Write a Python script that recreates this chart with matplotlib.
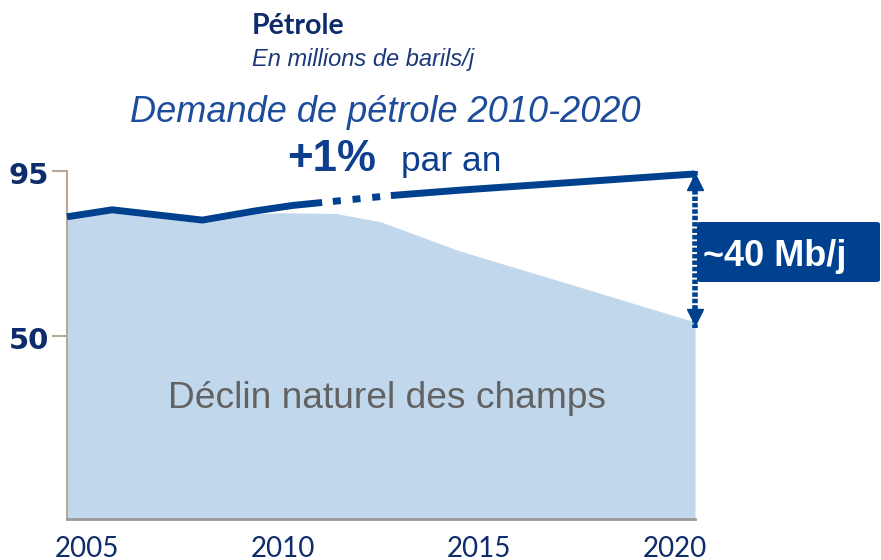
import numpy as np
import matplotlib.pyplot as plt
import matplotlib.transforms as mtransforms
from matplotlib.patches import FancyBboxPatch

# demand for oil (Mb/j)
demand_years = [2004.5, 2005.65, 2007.95, 2009.3, 2010.25, 2011.0, 2012.75, 2014.55, 2020.5]
demand_vals = [82.5, 84.4, 81.6, 84.1, 85.6, 86.4, 88.3, 89.8, 94.2]

# natural decline of existing fields
decline_years = [2004.5, 2005.65, 2007.95, 2009.3, 2009.95, 2011.35, 2012.5, 2014.5, 2020.5]
decline_vals = [82.0, 83.6, 80.8, 83.3, 83.6, 83.4, 81.1, 73.2, 53.8]

xticks = [2005, 2010, 2015, 2020]
yticks = [50, 95]

W, H = 881, 560
navy = '#0e2c6b'
blue = '#00418f'
fillc = '#c1d7ec'
tan = '#b8a898'


def px(x, y):
    return x / W, 1 - y / H


fig = plt.figure(figsize=(W / 100, H / 100), dpi=100)
ax = fig.add_axes([67 / W, 41 / H, 628 / W, 348 / H])

dy = np.array(demand_years)
dv = np.array(demand_vals)

ax.fill_between(decline_years, 0, decline_vals, color=fillc, lw=0, zorder=1)

# solid / dashed / solid demand line
m1 = dy <= 2011.0
m2 = (dy >= 2011.0) & (dy <= 2012.75)
m3 = dy >= 2012.75
ax.plot(dy[m1], dv[m1], color=blue, lw=5, solid_capstyle='butt', zorder=3, clip_on=False)
ax.plot(dy[m2], dv[m2], color=blue, lw=5, ls=(1.3, (1.15, 1.7)),
        dash_capstyle='butt', zorder=3, clip_on=False)
ax.plot(dy[m3], dv[m3], color=blue, lw=5, solid_capstyle='butt', zorder=3, clip_on=False)

# double arrow: gap between demand and decline in 2020
xe = demand_years[-1]
ytop = demand_vals[-1] - 2.2
ybot = decline_vals[-1] + 1.3
ax.plot([xe, xe], [ytop + 3, ybot - 3], color=blue, lw=4, ls=(0, (0.8, 0.35)),
        dash_capstyle='butt', zorder=4, clip_on=False)
ax.plot([xe], [ytop], marker='^', ms=12, color=blue, mec=blue, zorder=5, clip_on=False)
ax.plot([xe], [ybot], marker='v', ms=12, color=blue, mec=blue, zorder=5, clip_on=False)

ax.set_xlim(2004.5, 2020.5)
ax.set_ylim(0, 95)
ax.set_xticks(xticks)
ax.set_xticklabels([str(t) for t in xticks], fontfamily='Lato', fontsize=20, color=navy)
ax.set_yticks(yticks)
ax.set_yticklabels([str(t) for t in yticks], fontfamily='DejaVu Sans', fontweight='bold',
                   fontsize=21, color=navy, va='center')
ax.tick_params(axis='x', length=0, pad=12)
ax.tick_params(axis='y', length=11, width=1.5, color=tan, pad=2)

ax.spines['top'].set_visible(False)
ax.spines['right'].set_visible(False)
ax.spines['left'].set_color(tan)
ax.spines['left'].set_linewidth(1.5)
ax.spines['bottom'].set_color('#9a9a9a')
ax.spines['bottom'].set_linewidth(2)
ax.patch.set_alpha(0)

# y labels sit a little below their ticks in the reference
off = mtransforms.ScaledTranslation(0, -5 / 100, fig.dpi_scale_trans)
for lbl in ax.get_yticklabels():
    lbl.set_transform(lbl.get_transform() + off)

# titles
fig.text(*px(252, 34), 'Pétrole', fontfamily='Lato', fontweight='bold', fontsize=20.5,
         color=navy, va='baseline')
fig.text(*px(252, 66), 'En millions de barils/j', fontfamily='Liberation Sans',
         style='italic', fontsize=17, color='#1b3878', va='baseline')
fig.text(*px(130, 122), 'Demande de pétrole 2010-2020', fontfamily='Liberation Sans',
         style='italic', fontsize=26, color='#1c4c9a', va='baseline')
fig.text(*px(287, 171), '+1%', fontfamily='Liberation Sans', fontweight='bold',
         fontsize=31.5, color='#0d3f8e', va='baseline')
fig.text(*px(401, 171), 'par an', fontfamily='Liberation Sans', fontsize=25.5,
         color='#0d3f8e', va='baseline')
fig.text(*px(168, 408), 'Déclin naturel des champs', fontfamily='Liberation Sans',
         fontsize=26.7, color='#626262', va='baseline')

# label box
box = FancyBboxPatch(px(697, 282), 183 / W, 60 / H,
                     boxstyle='round,pad=0,rounding_size=0.004',
                     transform=fig.transFigure, fc=blue, ec='none', zorder=2)
fig.patches.append(box)
fig.text(*px(703, 266), '~40 Mb/j', fontfamily='Liberation Sans', fontweight='bold',
         fontsize=26, color='white', va='baseline', zorder=3)

fig.savefig('out.png', dpi=100)
